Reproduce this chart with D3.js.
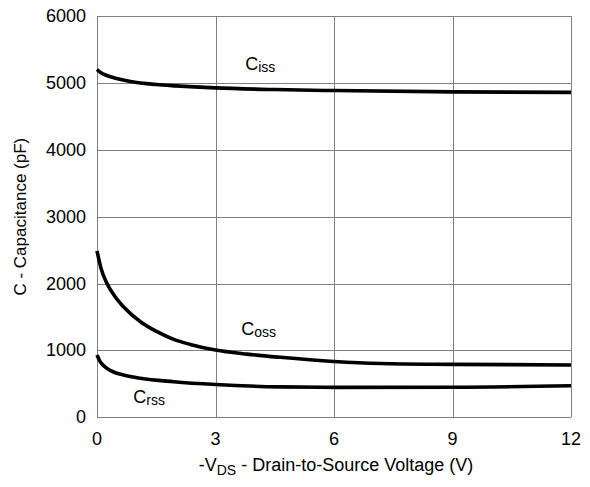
<!DOCTYPE html>
<html>
<head>
<meta charset="utf-8">
<script src="https://cdn.jsdelivr.net/npm/d3@7"></script>
<style>
  html, body { margin: 0; padding: 0; background: #fff; }
  svg { display: block; font-family: "Liberation Sans", Arial, sans-serif; }
</style>
</head>
<body>
<svg id="chart" width="590" height="487"></svg>
<script>
// Capacitance vs drain-to-source voltage
const xTicks = [0, 3, 6, 9, 12];
const yTicks = [0, 1000, 2000, 3000, 4000, 5000, 6000];

// [V, pF] samples
const ciss = [[0, 5200], [0.1, 5150], [0.25, 5110], [0.5, 5065], [0.85, 5020], [1.5, 4975],
              [2, 4955], [3, 4925], [4.5, 4900], [6, 4885], [9, 4865], [12, 4858]];
const coss = [[0, 2490], [0.1, 2230], [0.25, 2003], [0.45, 1810], [0.67, 1653], [1.1, 1429],
              [1.52, 1280], [1.94, 1165], [2.36, 1090], [3, 1006], [3.8, 945], [4.64, 897],
              [6, 835], [7.17, 805], [9, 792], [12, 782]];
const crss = [[0, 931], [0.08, 831], [0.25, 732], [0.45, 670], [0.67, 632], [1.1, 583],
              [1.94, 532], [3, 490], [4.64, 455], [6, 448], [9, 450], [12, 472]];

const labels = [
  { main: "C", sub: "iss", v: 3.75, c: 5190 },
  { main: "C", sub: "oss", v: 3.65, c: 1230 },
  { main: "C", sub: "rss", v: 0.92, c: 210 }
];

const svg = d3.select("#chart");
const plotLeft = 97, plotRight = 571, plotTop = 16, plotBottom = 417.3;

const x = d3.scaleLinear().domain([0, 12]).range([plotLeft, plotRight]);
const y = d3.scaleLinear().domain([0, 6000]).range([plotBottom, plotTop]);

// grid
const grid = svg.append("g").attr("stroke", "#808080").attr("stroke-width", 1);
grid.selectAll("line.v").data(xTicks).join("line").attr("class", "v")
  .attr("x1", d => Math.round(x(d)) + 0.5).attr("x2", d => Math.round(x(d)) + 0.5)
  .attr("y1", y(6000)).attr("y2", y(0));
grid.selectAll("line.h").data(yTicks).join("line").attr("class", "h")
  .attr("x1", x(0)).attr("x2", x(12))
  .attr("y1", d => Math.round(y(d)) + 0.5).attr("y2", d => Math.round(y(d)) + 0.5);

// tick labels
svg.append("g").selectAll("text").data(yTicks).join("text")
  .attr("x", plotLeft - 11).attr("y", d => y(d) + 6)
  .attr("text-anchor", "end").attr("font-size", 18).attr("fill", "#000")
  .text(d => d);
svg.append("g").selectAll("text").data(xTicks).join("text")
  .attr("x", d => x(d)).attr("y", 445)
  .attr("text-anchor", "middle").attr("font-size", 18).attr("fill", "#000")
  .text(d => d);

// curves
const line = d3.line().x(d => x(d[0])).y(d => y(d[1])).curve(d3.curveMonotoneX);
svg.append("g").selectAll("path").data([ciss, coss, crss]).join("path")
  .attr("d", line).attr("fill", "none").attr("stroke", "#000")
  .attr("stroke-width", 3.6).attr("stroke-linecap", "butt");

// curve labels
const lab = svg.append("g").selectAll("text").data(labels).join("text")
  .attr("x", d => x(d.v)).attr("y", d => y(d.c))
  .attr("font-size", 18).attr("fill", "#000");
lab.append("tspan").text(d => d.main);
lab.append("tspan").attr("font-size", 14).attr("dy", 2).text(d => d.sub);

// axis titles
svg.append("text")
  .attr("transform", `translate(26, ${(plotTop + plotBottom) / 2}) rotate(-90)`)
  .attr("text-anchor", "middle").attr("font-size", 17).attr("fill", "#000")
  .text("C - Capacitance (pF)");

const xt = svg.append("text")
  .attr("x", 336).attr("y", 471)
  .attr("text-anchor", "middle").attr("font-size", 18).attr("fill", "#000");
xt.append("tspan").text("-V");
xt.append("tspan").attr("font-size", 14).attr("dy", 4).text("DS");
xt.append("tspan").attr("dy", -4).text(" - Drain-to-Source Voltage (V)");
</script>
</body>
</html>
